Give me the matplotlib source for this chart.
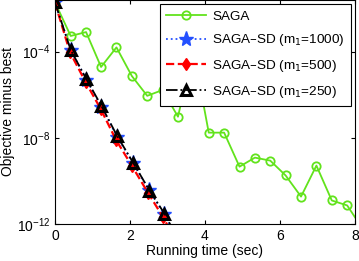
import numpy as np
import matplotlib
matplotlib.use("Agg")
import matplotlib.pyplot as plt
from matplotlib.ticker import NullLocator

plt.rcParams["font.family"] = ["Liberation Sans", "DejaVu Sans"]

# --------------------------------------------------
# Data (log10 of objective gap)
# --------------------------------------------------
saga_t = [0.0, 0.42, 0.83, 1.23, 1.64, 2.05, 2.46, 2.87, 3.28, 3.69,
          4.10, 4.51, 4.92, 5.33, 5.74, 6.15, 6.56, 6.97, 7.38, 7.79, 8.20]
saga_log = [-1.70, -3.27, -3.09, -4.71, -3.80, -5.13, -6.05, -5.78, -7.02, -3.92,
            -7.76, -7.76, -9.34, -8.92, -9.06, -9.75, -10.73, -9.29, -10.91, -11.14, -12.22]

sd1000_t = [0.0, 0.42, 0.84, 1.24, 1.66, 2.08, 2.51, 2.91, 3.33]
sd1000_log = [-1.70, -3.92, -5.31, -6.56, -7.95, -9.17, -10.43, -11.54, -12.9]

sd500_t = [0.0, 0.40, 0.82, 1.22, 1.63, 2.05, 2.48, 2.88, 3.30]
sd500_log = [-1.72, -4.02, -5.42, -6.66, -8.10, -9.30, -10.55, -11.68, -13.0]

sd250_t = [0.0, 0.42, 0.84, 1.24, 1.66, 2.09, 2.52, 2.92, 3.34]
sd250_log = [-1.70, -3.92, -5.28, -6.52, -7.92, -9.17, -10.45, -11.52, -12.9]

labels = ["SAGA", "SAGA\u2013SD (m$_1$=1000)", "SAGA\u2013SD (m$_1$=500)", "SAGA\u2013SD (m$_1$=250)"]

# --------------------------------------------------
# Plot
# --------------------------------------------------
fig = plt.figure(figsize=(3.59, 2.61), dpi=100)
ax = fig.add_axes([0.153, 0.142, 0.836, 0.858])

ax.semilogy(saga_t, 10.0 ** np.array(saga_log), "-o", color="#62e31c", lw=1.3,
            ms=6, mfc="none", mew=1.3, label=labels[0])
ax.semilogy(sd1000_t, 10.0 ** np.array(sd1000_log), ":*", color="#2450ff", lw=1.3,
            ms=11, label=labels[1])
ax.semilogy(sd500_t, 10.0 ** np.array(sd500_log), "--d", color="#ff0000", lw=1.6,
            ms=6, label=labels[2])
ax.semilogy(sd250_t, 10.0 ** np.array(sd250_log), "-.^", color="black", lw=1.3,
            ms=7, mfc="none", mew=2.2, label=labels[3])

ax.set_xlim(0, 8)
ax.set_ylim(1e-12, 10 ** -1.6)
ax.set_xticks([0, 2, 4, 6, 8])
ax.set_yticks([1e-12, 1e-8, 1e-4])
ax.yaxis.set_minor_locator(NullLocator())
ax.tick_params(direction="in", top=True, right=True, labelsize=10, length=3)
ax.set_xlabel("Running time (sec)", fontsize=10, labelpad=1)
ax.set_ylabel("Objective minus best", fontsize=10, labelpad=1)

leg = ax.legend(loc="upper right", fontsize=9.7, handlelength=3.0, fancybox=False,
                edgecolor="black", framealpha=1, borderaxespad=0.3,
                labelspacing=0.72, handletextpad=0.45, borderpad=0.45)
leg.get_frame().set_linewidth(0.8)

fig.savefig("out.png", dpi=100)
